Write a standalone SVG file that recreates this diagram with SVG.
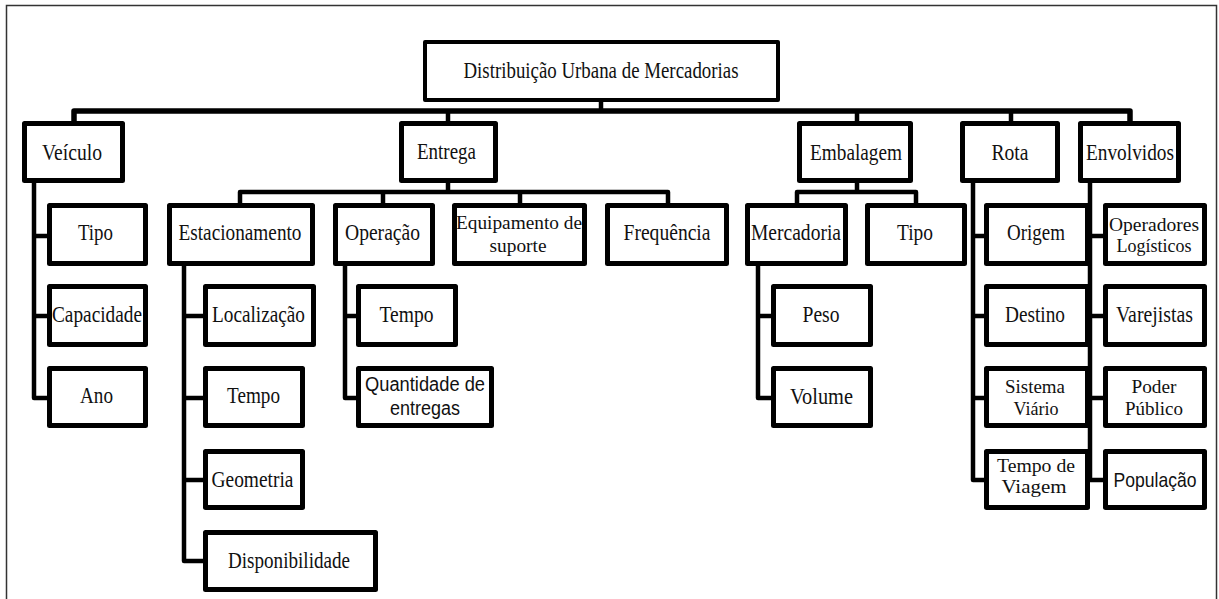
<svg xmlns="http://www.w3.org/2000/svg" width="1219" height="599" viewBox="0 0 1219 599">
  <style>
    .frame { fill: #fff; stroke: #333; stroke-width: 1.5; }
    .box { fill: #fff; stroke: #000; stroke-width: 5; stroke-linejoin: round; }
    .root { stroke-width: 4; }
    .link { fill: none; stroke: #000; stroke-width: 4.5; stroke-linejoin: round; stroke-linecap: butt; }
    .bar { stroke-width: 5.5; }
    .t { font-family: "Liberation Serif", "Times New Roman", serif; font-size: 23px; fill: #111; text-anchor: middle; }
    .t2 { font-family: "Liberation Serif", "Times New Roman", serif; font-size: 19px; fill: #111; text-anchor: middle; }
    .s { font-family: "Liberation Sans", Arial, sans-serif; font-size: 21px; fill: #111; text-anchor: middle; }
    .s2 { font-family: "Liberation Sans", Arial, sans-serif; font-size: 20px; fill: #111; text-anchor: middle; }
  </style>

  <rect class="frame" x="6.5" y="5.5" width="1210" height="600"/>

  <!-- connectors -->
  <g id="connectors">
    <path class="link" d="M601,102 V111"/>
    <path class="link bar" d="M74,121 V111 H1130 V121"/>
    <path class="link" d="M448,111 V121 M857,111 V121 M1011,111 V121"/>
    <!-- Entrega -->
    <path class="link" d="M448,183 V192"/>
    <path class="link" d="M240,203 V192 H668 V203"/>
    <path class="link" d="M383,192 V203 M520,192 V203"/>
    <!-- Embalagem -->
    <path class="link" d="M857,183 V192"/>
    <path class="link" d="M797,203 V192 H916 V203"/>
    <!-- Veiculo -->
    <path class="link" d="M34,183 V398 H47 M34,236 H47 M34,316 H47"/>
    <!-- Estacionamento -->
    <path class="link" d="M184,266 V561 H203 M184,316 H203 M184,398 H203 M184,480 H203"/>
    <!-- Operacao -->
    <path class="link" d="M345,266 V398 H356 M345,316 H356"/>
    <!-- Mercadoria -->
    <path class="link" d="M758,266 V398 H771 M758,316 H771"/>
    <!-- Rota -->
    <path class="link" d="M973,183 V480 H984 M973,236 H984 M973,316 H984 M973,398 H984"/>
    <!-- Envolvidos -->
    <path class="link" d="M1090,183 V480 H1103 M1090,236 H1103 M1090,316 H1103 M1090,398 H1103"/>
  </g>

  <g id="root">
    <rect class="box root" x="425" y="42" width="353" height="58"/>
    <text class="t" x="601" y="78" textLength="275" lengthAdjust="spacingAndGlyphs">Distribuição Urbana de Mercadorias</text>
  </g>

  <!-- first level -->
  <g id="veiculo">
    <rect class="box" x="24.5" y="123.5" width="98" height="57"/>
    <text class="t" x="72" y="160" textLength="60" lengthAdjust="spacingAndGlyphs">Veículo</text>
  </g>
  <g id="entrega">
    <rect class="box" x="401.5" y="123.5" width="94" height="57"/>
    <text class="t" x="446.5" y="159" textLength="59" lengthAdjust="spacingAndGlyphs">Entrega</text>
  </g>
  <g id="embalagem">
    <rect class="box" x="799.5" y="123.5" width="111" height="57"/>
    <text class="t" x="856" y="160" textLength="92" lengthAdjust="spacingAndGlyphs">Embalagem</text>
  </g>
  <g id="rota">
    <rect class="box" x="962.5" y="123.5" width="95" height="57"/>
    <text class="t" x="1010" y="160" textLength="37" lengthAdjust="spacingAndGlyphs">Rota</text>
  </g>
  <g id="envolvidos">
    <rect class="box" x="1080.5" y="123.5" width="98" height="57"/>
    <text class="t" x="1130" y="160" textLength="88" lengthAdjust="spacingAndGlyphs">Envolvidos</text>
  </g>

  <!-- second level -->
  <g id="veiculo-tipo">
    <rect class="box" x="49.5" y="205.5" width="96" height="58"/>
    <text class="t" x="95.5" y="240" textLength="35" lengthAdjust="spacingAndGlyphs">Tipo</text>
  </g>
  <g id="estacionamento">
    <rect class="box" x="169.5" y="205.5" width="143" height="58"/>
    <text class="t" x="240" y="240" textLength="123" lengthAdjust="spacingAndGlyphs">Estacionamento</text>
  </g>
  <g id="operacao">
    <rect class="box" x="335.5" y="205.5" width="97" height="58"/>
    <text class="t" x="382.5" y="240" textLength="75" lengthAdjust="spacingAndGlyphs">Operação</text>
  </g>
  <g id="equipamento">
    <rect class="box" x="454.5" y="205.5" width="130" height="58"/>
    <text class="t2" x="519" y="229" textLength="126" lengthAdjust="spacingAndGlyphs">Equipamento de</text>
    <text class="t2" x="518" y="252" textLength="57" lengthAdjust="spacingAndGlyphs">suporte</text>
  </g>
  <g id="frequencia">
    <rect class="box" x="607.5" y="205.5" width="119" height="58"/>
    <text class="t" x="667" y="240" textLength="87" lengthAdjust="spacingAndGlyphs">Frequência</text>
  </g>
  <g id="mercadoria">
    <rect class="box" x="747.5" y="205.5" width="98" height="58"/>
    <text class="t" x="796" y="240" textLength="90" lengthAdjust="spacingAndGlyphs">Mercadoria</text>
  </g>
  <g id="embalagem-tipo">
    <rect class="box" x="867.5" y="205.5" width="97" height="58"/>
    <text class="t" x="915" y="240" textLength="36" lengthAdjust="spacingAndGlyphs">Tipo</text>
  </g>
  <g id="origem">
    <rect class="box" x="986.5" y="205.5" width="101" height="58"/>
    <text class="t" x="1036" y="240" textLength="58" lengthAdjust="spacingAndGlyphs">Origem</text>
  </g>
  <g id="operadores">
    <rect class="box" x="1105.5" y="205.5" width="99" height="58"/>
    <text class="t2" x="1154" y="231" textLength="90" lengthAdjust="spacingAndGlyphs">Operadores</text>
    <text class="t2" x="1154" y="252" textLength="75" lengthAdjust="spacingAndGlyphs">Logísticos</text>
  </g>

  <!-- third level -->
  <g id="capacidade">
    <rect class="box" x="49.5" y="286.5" width="96" height="58"/>
    <text class="t" x="97" y="322" textLength="90" lengthAdjust="spacingAndGlyphs">Capacidade</text>
  </g>
  <g id="localizacao">
    <rect class="box" x="205.5" y="286.5" width="108" height="58"/>
    <text class="t" x="258.5" y="322" textLength="93" lengthAdjust="spacingAndGlyphs">Localização</text>
  </g>
  <g id="operacao-tempo">
    <rect class="box" x="358.5" y="286.5" width="97" height="58"/>
    <text class="t" x="406.5" y="322" textLength="54" lengthAdjust="spacingAndGlyphs">Tempo</text>
  </g>
  <g id="peso">
    <rect class="box" x="773.5" y="286.5" width="97" height="58"/>
    <text class="t" x="821" y="322" textLength="37" lengthAdjust="spacingAndGlyphs">Peso</text>
  </g>
  <g id="destino">
    <rect class="box" x="986.5" y="286.5" width="101" height="58"/>
    <text class="t" x="1035" y="322" textLength="60" lengthAdjust="spacingAndGlyphs">Destino</text>
  </g>
  <g id="varejistas">
    <rect class="box" x="1105.5" y="286.5" width="99" height="58"/>
    <text class="t" x="1154.5" y="322" textLength="77" lengthAdjust="spacingAndGlyphs">Varejistas</text>
  </g>

  <!-- fourth level -->
  <g id="ano">
    <rect class="box" x="49.5" y="368.5" width="96" height="57"/>
    <text class="t" x="96.5" y="403" textLength="33" lengthAdjust="spacingAndGlyphs">Ano</text>
  </g>
  <g id="estacionamento-tempo">
    <rect class="box" x="205.5" y="368.5" width="97" height="57"/>
    <text class="t" x="253.5" y="403" textLength="53" lengthAdjust="spacingAndGlyphs">Tempo</text>
  </g>
  <g id="quantidade">
    <rect class="box" x="358.5" y="368.5" width="133" height="57"/>
    <text class="s2" x="425" y="391" textLength="120" lengthAdjust="spacingAndGlyphs">Quantidade de</text>
    <text class="s2" x="425" y="415" textLength="70" lengthAdjust="spacingAndGlyphs">entregas</text>
  </g>
  <g id="volume">
    <rect class="box" x="773.5" y="368.5" width="97" height="57"/>
    <text class="t" x="821.5" y="404" textLength="63" lengthAdjust="spacingAndGlyphs">Volume</text>
  </g>
  <g id="sistema-viario">
    <rect class="box" x="986.5" y="368.5" width="101" height="57"/>
    <text class="t2" x="1035" y="393" textLength="60" lengthAdjust="spacingAndGlyphs">Sistema</text>
    <text class="t2" x="1036" y="415" textLength="45" lengthAdjust="spacingAndGlyphs">Viário</text>
  </g>
  <g id="poder-publico">
    <rect class="box" x="1105.5" y="368.5" width="99" height="57"/>
    <text class="t2" x="1154" y="393" textLength="45" lengthAdjust="spacingAndGlyphs">Poder</text>
    <text class="t2" x="1154" y="415" textLength="58" lengthAdjust="spacingAndGlyphs">Público</text>
  </g>

  <!-- fifth level -->
  <g id="geometria">
    <rect class="box" x="205.5" y="451.5" width="97" height="56"/>
    <text class="t" x="252.5" y="487" textLength="82" lengthAdjust="spacingAndGlyphs">Geometria</text>
  </g>
  <g id="tempo-viagem">
    <rect class="box" x="986.5" y="451.5" width="101" height="56"/>
    <text class="t2" x="1036" y="472" textLength="78" lengthAdjust="spacingAndGlyphs">Tempo de</text>
    <text class="t2" x="1034" y="493" textLength="65" lengthAdjust="spacingAndGlyphs">Viagem</text>
  </g>
  <g id="populacao">
    <rect class="box" x="1105.5" y="451.5" width="99" height="56"/>
    <text class="s" x="1155" y="487" textLength="83" lengthAdjust="spacingAndGlyphs">População</text>
  </g>

  <!-- sixth level -->
  <g id="disponibilidade">
    <rect class="box" x="205.5" y="532.5" width="170" height="57"/>
    <text class="t" x="289" y="568" textLength="122" lengthAdjust="spacingAndGlyphs">Disponibilidade</text>
  </g>
</svg>
